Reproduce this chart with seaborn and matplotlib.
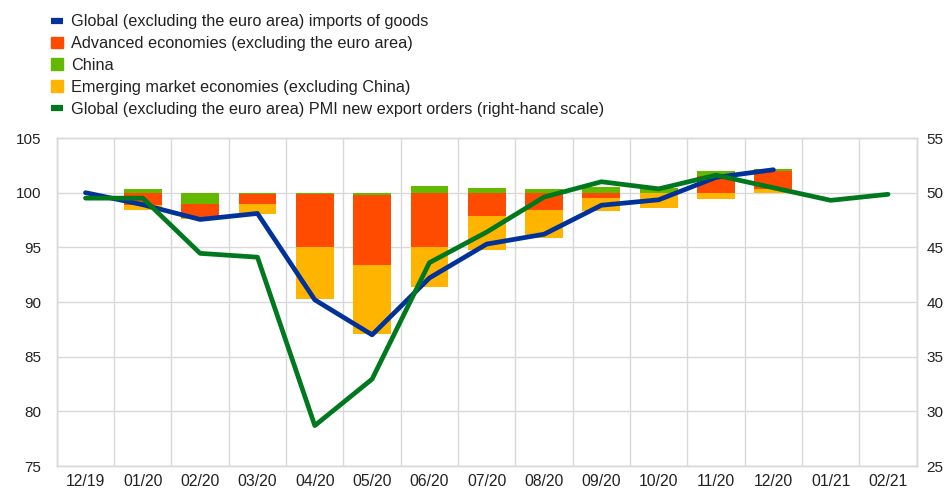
import numpy as np
import pandas as pd
import matplotlib
matplotlib.use("Agg")
import matplotlib.pyplot as plt
import seaborn as sns
from matplotlib.lines import Line2D
from matplotlib.patches import Patch

# Data
months = ["12/19", "01/20", "02/20", "03/20", "04/20", "05/20", "06/20", "07/20",
          "08/20", "09/20", "10/20", "11/20", "12/20", "01/21", "02/21"]
imports = [100.0, 98.9, 97.55, 98.1, 90.2, 87.0, 92.2, 95.3, 96.2, 98.85, 99.35,
           101.4, 102.1, np.nan, np.nan]
advanced = [np.nan, -1.15, -1.25, -0.9, -4.9, -6.35, -5.0, -2.15, -1.55, -0.45, 0.0,
            1.55, 1.65, np.nan, np.nan]
china = [np.nan, 0.35, -1.05, -0.1, -0.1, -0.25, 0.65, 0.45, 0.3, 0.5, 0.4,
         0.45, 0.2, np.nan, np.nan]
emerging = [np.nan, -0.45, -0.1, -0.95, -4.75, -6.35, -3.6, -3.1, -2.55, -1.25, -1.4,
            -0.55, 0.3, np.nan, np.nan]
pmi = [49.5, 49.5, 44.45, 44.1, 28.7, 32.95, 43.6, 46.4, 49.6, 51.0, 50.35,
       51.6, 50.45, 49.3, 49.85]

labels = {
    "imports": "Global (excluding the euro area) imports of goods",
    "adv": "Advanced economies (excluding the euro area)",
    "china": "China",
    "em": "Emerging market economies (excluding China)",
    "pmi": "Global (excluding the euro area) PMI new export orders (right-hand scale)",
}
colors = {"imports": "#003299", "adv": "#FF4B00", "china": "#65B800",
          "em": "#FFB400", "pmi": "#00781E"}

sns.set_style("white")
plt.rcParams["font.family"] = ["Liberation Sans", "DejaVu Sans"]

df = pd.DataFrame({"x": np.arange(len(months)), "imports": imports, "pmi": pmi})

fig, ax = plt.subplots(figsize=(9.47, 4.92), dpi=100)
fig.subplots_adjust(left=0.060, right=0.968, top=0.7195, bottom=0.0528)

# stacked contributions around the 100 baseline
base = 100.0
width = 0.66
pos_bottom = np.full(len(months), base)
neg_top = np.full(len(months), base)
# visual order top to bottom is China, Advanced, Emerging
for key, vals in [("em", emerging), ("adv", advanced), ("china", china)]:
    v = np.nan_to_num(np.array(vals))
    p = np.where(v > 0, v, 0)
    ax.bar(df["x"], p, bottom=pos_bottom, width=width, color=colors[key],
           edgecolor="none", linewidth=0, zorder=2)
    pos_bottom = pos_bottom + p
for key, vals in [("china", china), ("adv", advanced), ("em", emerging)]:
    v = np.nan_to_num(np.array(vals))
    n = np.where(v < 0, v, 0)
    ax.bar(df["x"], n, bottom=neg_top, width=width, color=colors[key],
           edgecolor="none", linewidth=0, zorder=2)
    neg_top = neg_top + n

sns.lineplot(data=df, x="x", y="imports", ax=ax, color=colors["imports"], lw=3.4,
             solid_capstyle="round", zorder=3)

ax2 = ax.twinx()
sns.lineplot(data=df, x="x", y="pmi", ax=ax2, color=colors["pmi"], lw=3.4,
             solid_capstyle="round", zorder=3)

ax.set_xlim(-0.5, len(months) - 0.5)
ax.set_ylim(75, 105)
ax.set_yticks(np.arange(75, 106, 5))
ax2.set_ylim(25, 55)
ax2.set_yticks(np.arange(25, 56, 5))
ax.set_xticks(df["x"])
ax.set_xticklabels(months)
ax.set_xticks(np.arange(-0.5, len(months), 1), minor=True)
ax.set_xlabel("")
ax.set_ylabel("")
ax2.set_ylabel("")

grid_c = "#d9d9d9"
ax.grid(axis="y", which="major", color=grid_c, lw=1, zorder=0)
ax.grid(axis="x", which="minor", color=grid_c, lw=1, zorder=0)
ax.grid(axis="x", which="major", visible=False)
ax.set_axisbelow(True)
for a in (ax, ax2):
    for s in a.spines.values():
        s.set_color(grid_c)
        s.set_linewidth(1)
ax.tick_params(axis="y", length=0, pad=11, labelsize=11, labelcolor="#222222")
ax.tick_params(axis="x", which="both", length=0, pad=6, labelsize=11.3, labelcolor="#222222")
ax2.tick_params(axis="y", length=0, pad=7, labelsize=11, labelcolor="#222222")

handles = [
    Line2D([0], [0], color=colors["imports"], lw=4.5, solid_capstyle="butt"),
    Patch(color=colors["adv"]),
    Patch(color=colors["china"]),
    Patch(color=colors["em"]),
    Line2D([0], [0], color=colors["pmi"], lw=4.5, solid_capstyle="butt"),
]
fig.legend(handles, [labels[k] for k in ["imports", "adv", "china", "em", "pmi"]],
           loc="upper left", bbox_to_anchor=(0.047, 0.984), frameon=False,
           fontsize=11.7, handlelength=0.75, handleheight=0.75, handletextpad=0.5,
           labelspacing=0.42, borderaxespad=0, labelcolor="#222222")

fig.savefig("out.png", dpi=100)
